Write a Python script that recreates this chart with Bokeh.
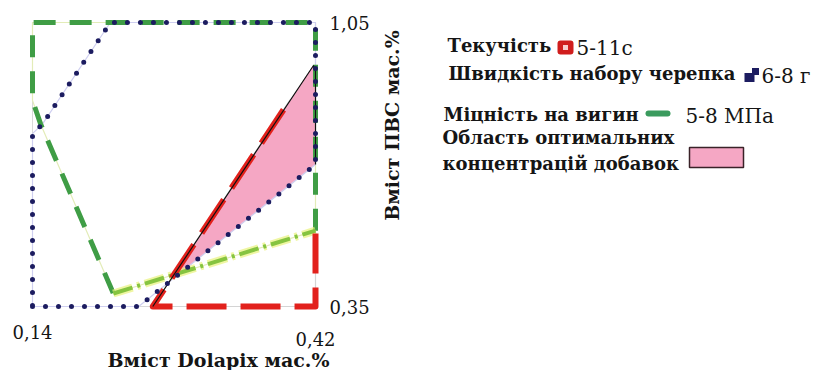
from math import pi

from bokeh.core.properties import value
from bokeh.embed import file_html
from bokeh.models import Range1d
from bokeh.plotting import figure
from bokeh.resources import INLINE

# ---------------------------------------------------------------- data
# Axis limits and tick labels (Dolapix on x, PVA on y, both mass %)
dolapix_ticks = [0.14, 0.42]
dolapix_tick_labels = ["0,14", "0,42"]
pvs_ticks = [0.35, 1.05]
pvs_tick_labels = ["0,35", "1,05"]

# Flowability 5-11 s boundary
flow_x = [0.42, 0.42, 0.259, 0.395]
flow_y = [0.53, 0.35, 0.35, 0.86]

# Shard set rate 6-8 g boundary
rate_x = [0.14, 0.245, 0.42, 0.42, 0.217, 0.150, 0.14, 0.14]
rate_y = [0.35, 0.35, 0.70, 1.05, 1.05, 0.80, 0.776, 0.35]

# Bending strength 5-8 MPa boundary
strength_x = [0.42, 0.42, 0.14, 0.14, 0.148, 0.22, 0.42]
strength_y = [0.537, 1.05, 1.05, 0.858, 0.80, 0.382, 0.537]

# Region of optimal additive concentrations
opt_x = [0.275, 0.418, 0.42, 0.42]
opt_y = [0.41, 0.944, 0.93, 0.70]

x_title = "Вміст Dolapix мас.%"
y_title = "Вміст ПВС мас.%"
legend_names = ["Текучість", "Швидкість набору черепка", "Міцність на вигин",
                "Область оптимальних", "концентрацій добавок"]
legend_values = ["5-11с", "6-8 г", "5-8 МПа"]

# ---------------------------------------------------------------- layout
W, H = 819, 370
FRAME_L, FRAME_R, FRAME_T, FRAME_B = 32, 315, 22, 306
X_LIM = (0.14, 0.42)
Y_LIM = (0.35, 1.05)

kx = (FRAME_R - FRAME_L) / (X_LIM[1] - X_LIM[0])
ky = (FRAME_B - FRAME_T) / (Y_LIM[1] - Y_LIM[0])
x_range = Range1d(X_LIM[0] - FRAME_L / kx, X_LIM[0] + (W - FRAME_L) / kx)
y_range = Range1d(Y_LIM[1] - (H - FRAME_T) / ky, Y_LIM[1] + FRAME_T / ky)

SERIF = value("DejaVu Serif")
INK = "#151515"
GREEN = "#3f9d45"
LIME = "#86c440"
RED = "#e2211c"
NAVY = "#1c1c60"
PINK = "#f5a7c4"

p = figure(width=W, height=H, x_range=x_range, y_range=y_range,
           x_axis_type=None, y_axis_type=None, toolbar_location=None,
           output_backend="svg", min_border=0, outline_line_color=None,
           background_fill_color="white", border_fill_color="white")
# page-pixel coordinate system for texts and key swatches
p.extra_x_ranges = {"px": Range1d(0, W)}
p.extra_y_ranges = {"py": Range1d(H, 0)}

# plot box
p.quad(left=[X_LIM[0]], right=[X_LIM[1]], bottom=[Y_LIM[0]], top=[Y_LIM[1]],
       fill_color=None, line_color="#d9d9d9", line_width=1)

# optimal region
p.patch(opt_x, opt_y, fill_color=PINK, line_color=None)

# faint guide lines beneath the dashed / dotted boundaries
p.line(strength_x, strength_y, line_color="#e3ecb8", line_width=1.2)
p.line(rate_x, rate_y, line_color="#cfcff0", line_width=1.2)
p.line(flow_x, flow_y, line_color="#d4d4d4", line_width=1.2)

# bending strength: dark green dashes, lime dash-dot on the lower edge
p.line(strength_x[:6], strength_y[:6], line_color=GREEN, line_width=5,
       line_dash="22 14", line_join="round")
p.line(strength_x[5:], strength_y[5:], line_color="#e8f27c", line_width=8,
       line_dash="20 5 3 5", line_alpha=0.7)
p.line(strength_x[5:], strength_y[5:], line_color=LIME, line_width=4,
       line_dash="20 5 3 5")

# flowability: red dashes
p.line(flow_x, flow_y, line_color=RED, line_width=6, line_dash="40 14",
       line_join="round")

# thin outline of the optimal region
edge_x = [flow_x[2], opt_x[1], opt_x[2], opt_x[3]]
edge_y = [flow_y[2], opt_y[1], opt_y[2], opt_y[3]]
p.line(edge_x, edge_y, line_color="#111111", line_width=1.2)

# shard set rate: navy dots
p.line(rate_x, rate_y, line_color=NAVY, line_width=5, line_dash="0 13",
       line_cap="round")

# ---------------------------------------------------------------- axes texts
p.text(x=dolapix_ticks, y=[331, 338], y_range_name="py", text=dolapix_tick_labels,
       text_font=SERIF, text_font_size="18px", text_color=INK,
       text_align="center", text_baseline="middle")
p.text(x=[329, 329], y=pvs_ticks, x_range_name="px", text=pvs_tick_labels,
       text_font=SERIF, text_font_size="18px", text_color=INK,
       text_align="left", text_baseline="middle")
p.text(x=[218], y=[359], x_range_name="px", y_range_name="py", text=[x_title],
       text_font=SERIF, text_font_size="19px", text_font_style="bold",
       text_color=INK, text_align="center", text_baseline="middle")
p.text(x=[391], y=[125], x_range_name="px", y_range_name="py", text=[y_title],
       angle=pi / 2, text_font=SERIF, text_font_size="19px",
       text_font_style="bold", text_color=INK, text_align="center",
       text_baseline="middle")

# ---------------------------------------------------------------- key
p.text(x=[447, 448, 443, 442, 442], y=[45, 73, 114, 137, 163],
       x_range_name="px", y_range_name="py", text=legend_names,
       text_font=SERIF, text_font_size="18px", text_font_style="bold",
       text_color=INK, text_align="left", text_baseline="middle")
p.text(x=[576, 761, 685], y=[47, 75, 115],
       x_range_name="px", y_range_name="py", text=legend_values,
       text_font=SERIF, text_font_size="20px", text_color=INK,
       text_align="left", text_baseline="middle")

# flowability swatch
p.rect(x=[565], y=[47], width=16, height=14, x_range_name="px", y_range_name="py",
       fill_color="#d01d1d", line_color=None, border_radius=3)
p.rect(x=[565], y=[47], width=5, height=5, x_range_name="px", y_range_name="py",
       fill_color="#f7cccc", line_color=None)
# set rate swatch
p.rect(x=[749, 755], y=[77, 71], width=[10, 7], height=[9, 7],
       x_range_name="px", y_range_name="py", fill_color=NAVY, line_color=None)
# strength swatch
p.line(x=[648, 667], y=[113, 113], x_range_name="px", y_range_name="py",
       line_color="#3b9b5e", line_width=6, line_cap="round")
# optimal region swatch
p.rect(x=[716], y=[157], width=54, height=20, x_range_name="px", y_range_name="py",
       fill_color=PINK, line_color="#3a2228", line_width=1.5)

open("out.html", "w").write(file_html(p, INLINE))
